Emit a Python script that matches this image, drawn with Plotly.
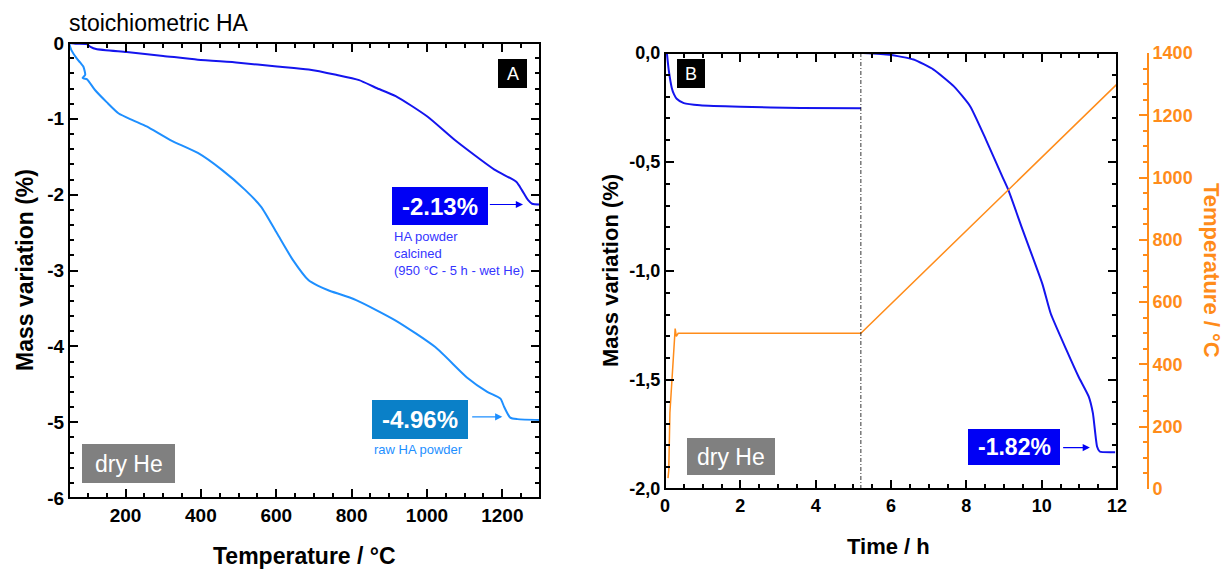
import plotly.graph_objects as go

# ---------------- data ----------------
# Panel A: temperature (°C) vs mass variation (%)
T_calc = [50, 70, 97, 107, 122, 203, 300, 392, 500, 602, 686, 759, 820, 864, 917, 1001, 1074, 1179, 1237, 1252, 1268, 1279, 1300]
m_calc = [0, -0.01, -0.015, -0.05, -0.08, -0.12, -0.17, -0.22, -0.26, -0.31, -0.35, -0.42, -0.49, -0.59, -0.70, -0.97, -1.28, -1.67, -1.83, -1.94, -2.07, -2.12, -2.13]

T_raw = [50, 56, 70, 80, 88, 93, 86, 90, 98, 119, 150, 182, 220, 256, 319, 392, 455, 518, 560, 602, 644, 686, 710, 738, 812, 917, 1022, 1106, 1160, 1195, 1205, 1221, 1240, 1300]
m_raw = [0, -0.09, -0.20, -0.26, -0.31, -0.42, -0.46, -0.47, -0.48, -0.62, -0.78, -0.93, -1.02, -1.10, -1.28, -1.45, -1.67, -1.94, -2.16, -2.51, -2.86, -3.13, -3.20, -3.26, -3.39, -3.66, -4.01, -4.41, -4.60, -4.69, -4.80, -4.94, -4.96, -4.97]

# Panel B: time (h) vs mass variation (%) and temperature (°C)
t_m1 = [0.05, 0.10, 0.18, 0.24, 0.31, 0.5, 0.93, 2.0, 3.6, 5.2]
m_1 = [0, -0.08, -0.16, -0.19, -0.21, -0.23, -0.24, -0.247, -0.252, -0.253]
t_m2 = [5.25, 5.96, 6.6, 7.13, 7.67, 8.1, 8.52, 8.95, 9.11, 9.49, 10.02, 10.24, 10.66, 10.98, 11.25, 11.36, 11.47, 11.54, 11.95]
m_2 = [0, -0.008, -0.03, -0.076, -0.153, -0.244, -0.397, -0.565, -0.626, -0.809, -1.06, -1.195, -1.363, -1.485, -1.576, -1.652, -1.805, -1.828, -1.831]
t_T = [0.08, 0.10, 0.13, 0.18, 0.27, 0.30, 0.35, 5.2, 12.0]
T_B = [35, 60, 244, 351, 515, 490, 500, 500, 1300]

# tick labels
A_xticks = [200, 400, 600, 800, 1000, 1200]
A_yticks = [0, -1, -2, -3, -4, -5, -6]
A_ytext = ["0", "-1", "-2", "-3", "-4", "-5", "-6"]
B_xticks = [0, 2, 4, 6, 8, 10, 12]
B_yticks = [0, -0.5, -1, -1.5, -2]
B_ytext = ["0,0", "-0,5", "-1,0", "-1,5", "-2,0"]
B_Tticks = [0, 200, 400, 600, 800, 1000, 1200, 1400]

# ---------------- style ----------------
W, H = 1231, 569
def px(x): return x / W
def py(y): return 1 - y / H

FONT = "Liberation Sans, Arial, sans-serif"
DARK = "#1414EE"
LIGHT = "#1E8FFF"
ORANGE = "#FF8C1A"
BOXBLUE = "#0000F5"
BOXRAW = "#0A80C8"
GREY = "#808080"

fig = go.Figure()
fig.add_trace(go.Scatter(x=T_raw, y=m_raw, mode="lines", line=dict(color=LIGHT, width=2, shape="spline", smoothing=0.6), xaxis="x", yaxis="y", showlegend=False))
fig.add_trace(go.Scatter(x=T_calc, y=m_calc, mode="lines", line=dict(color=DARK, width=2, shape="spline", smoothing=0.6), xaxis="x", yaxis="y", showlegend=False))
fig.add_trace(go.Scatter(x=t_T, y=T_B, mode="lines", line=dict(color=ORANGE, width=1.5), xaxis="x2", yaxis="y3", showlegend=False))
fig.add_trace(go.Scatter(x=t_m1, y=m_1, mode="lines", line=dict(color=DARK, width=2, shape="spline", smoothing=0.5), xaxis="x2", yaxis="y2", showlegend=False))
fig.add_trace(go.Scatter(x=t_m2, y=m_2, mode="lines", line=dict(color=DARK, width=2, shape="spline", smoothing=0.5), xaxis="x2", yaxis="y2", showlegend=False))

tickfont = dict(family=FONT, size=19, color="black", weight="bold")
tickfontB = dict(family=FONT, size=18, color="black", weight="bold")
common = dict(showline=True, linecolor="black", mirror="ticks", ticks="inside",
              ticklen=9, tickwidth=2, tickcolor="black", showgrid=False, zeroline=False, automargin=False)

def minor(dtick, color="black"):
    return dict(dtick=dtick, tick0=0, ticks="inside", ticklen=5, tickwidth=1.5, tickcolor=color)

fig.update_layout(
    width=W, height=H, margin=dict(l=0, r=0, t=0, b=0), showlegend=False,
    plot_bgcolor="white", paper_bgcolor="white",
    xaxis=dict(domain=[px(69), px(540)], range=[50, 1300], anchor="y", tickmode="array", tickvals=A_xticks,
               ticktext=[str(v) for v in A_xticks], tickfont=tickfont, minor=minor(50), **common),
    yaxis=dict(domain=[py(498), py(43)], range=[-6, 0], anchor="x", tickmode="array", tickvals=A_yticks,
               ticktext=A_ytext, tickfont=tickfont, minor=minor(0.2), **common),
    xaxis2=dict(domain=[px(665), px(1117)], range=[0, 12], anchor="y2", tickmode="array", tickvals=B_xticks,
                ticktext=[str(v) for v in B_xticks], tickfont=tickfontB, minor=minor(0.5), **common),
    yaxis2=dict(domain=[py(489), py(53)], range=[-2, 0], anchor="x2", tickmode="array", tickvals=B_yticks,
                ticktext=B_ytext, tickfont=tickfontB, minor=minor(0.1), **common),
    yaxis3=dict(overlaying="y2", side="right", anchor="free", position=px(1148), range=[0, 1400],
                tickmode="array", tickvals=B_Tticks, ticktext=[str(v) for v in B_Tticks],
                tickfont=dict(family=FONT, size=18, color=ORANGE, weight="bold"),
                showline=True, linecolor=ORANGE, ticks="inside", ticklen=9, tickwidth=2,
                tickcolor=ORANGE, showgrid=False, zeroline=False, automargin=False,
                minor=minor(50, ORANGE)),
)

shapes = []
annots = []

# thick frames
for xr, yr in [("x domain", "y domain"), ("x2 domain", "y2 domain")]:
    shapes.append(dict(type="rect", xref=xr, yref=yr, x0=0, x1=1, y0=0, y1=1,
                       line=dict(color="black", width=2), fillcolor="rgba(0,0,0,0)", layer="above"))
shapes.append(dict(type="line", xref="paper", yref="y2 domain", x0=px(1148), x1=px(1148), y0=0, y1=1,
                   line=dict(color=ORANGE, width=2), layer="above"))

def box(x0, y0, x1, y1, color):
    shapes.append(dict(type="rect", xref="paper", yref="paper", x0=px(x0), x1=px(x1), y0=py(y1), y1=py(y0),
                       fillcolor=color, line=dict(width=0), layer="above"))

def text(x, y, s, size, color="white", bold=False, angle=0, xanchor="center", align="center"):
    annots.append(dict(xref="paper", yref="paper", x=px(x), y=py(y), text=s, showarrow=False,
                       textangle=angle, xanchor=xanchor, yanchor="middle", align=align,
                       font=dict(family=FONT, size=size, color=color, weight="bold" if bold else "normal")))

def arrow(xr, yr, x_tail, x_tip, y, color):
    annots.append(dict(xref=xr, yref=yr, axref=xr, ayref=yr, x=x_tip, y=y, ax=x_tail, ay=y, text="",
                       showarrow=True, arrowhead=2, arrowsize=1.2, arrowwidth=1.2, arrowcolor=color))

# titles
text(67, 23, "stoichiometric HA", 23, color="black", xanchor="left")
text(25, 270, "Mass variation (%)", 23, color="black", bold=True, angle=-90)
text(304, 556, "Temperature / °C", 23, color="black", bold=True)
text(610, 271, "Mass variation (%)", 22, color="black", bold=True, angle=-90)
text(889, 546, "Time / h", 22, color="black", bold=True)
text(1212, 270, "Temperature / °C", 22, color=ORANGE, bold=True, angle=90)

# panel A labels
box(498, 59, 527, 88, "black")
text(512.5, 74, "A", 18)
box(82, 444, 175, 483, GREY)
text(128.5, 464, "dry He", 23)
box(392, 187, 488, 225, BOXBLUE)
text(440, 206, "<b>-2.13%</b>", 24)
arrow("x", "y", 1163, 1255, -2.13, BOXBLUE)
text(392, 253, "HA powder<br>calcined<br>(950 °C - 5 h - wet He)", 13, color="#3535FF", xanchor="left", align="left")
box(372, 400, 468, 439, BOXRAW)
text(420, 419.5, "<b>-4.96%</b>", 24)
arrow("x", "y", 1116, 1200, -4.93, LIGHT)
text(372, 449, "raw HA powder", 13, color=LIGHT, xanchor="left", align="left")

# panel B labels
box(677, 59, 705, 88, "black")
text(691, 74, "B", 18)
box(687, 438, 775, 475, GREY)
text(731, 457, "dry He", 23)
box(968, 429, 1060, 465, BOXBLUE)
text(1014, 447, "<b>-1.82%</b>", 23)
arrow("x2", "y2", 10.53, 11.28, -1.81, BOXBLUE)

shapes.append(dict(type="line", xref="x2", yref="y2 domain", x0=5.2, x1=5.2, y0=0, y1=1,
                   line=dict(color="black", width=0.8, dash="4px,2px,1px,2px")))

fig.update_layout(shapes=shapes, annotations=annots)

fig.write_html("out.html", config={"displayModeBar": False},
               post_script="document.body.style.margin='0';document.body.style.overflow='hidden';")
